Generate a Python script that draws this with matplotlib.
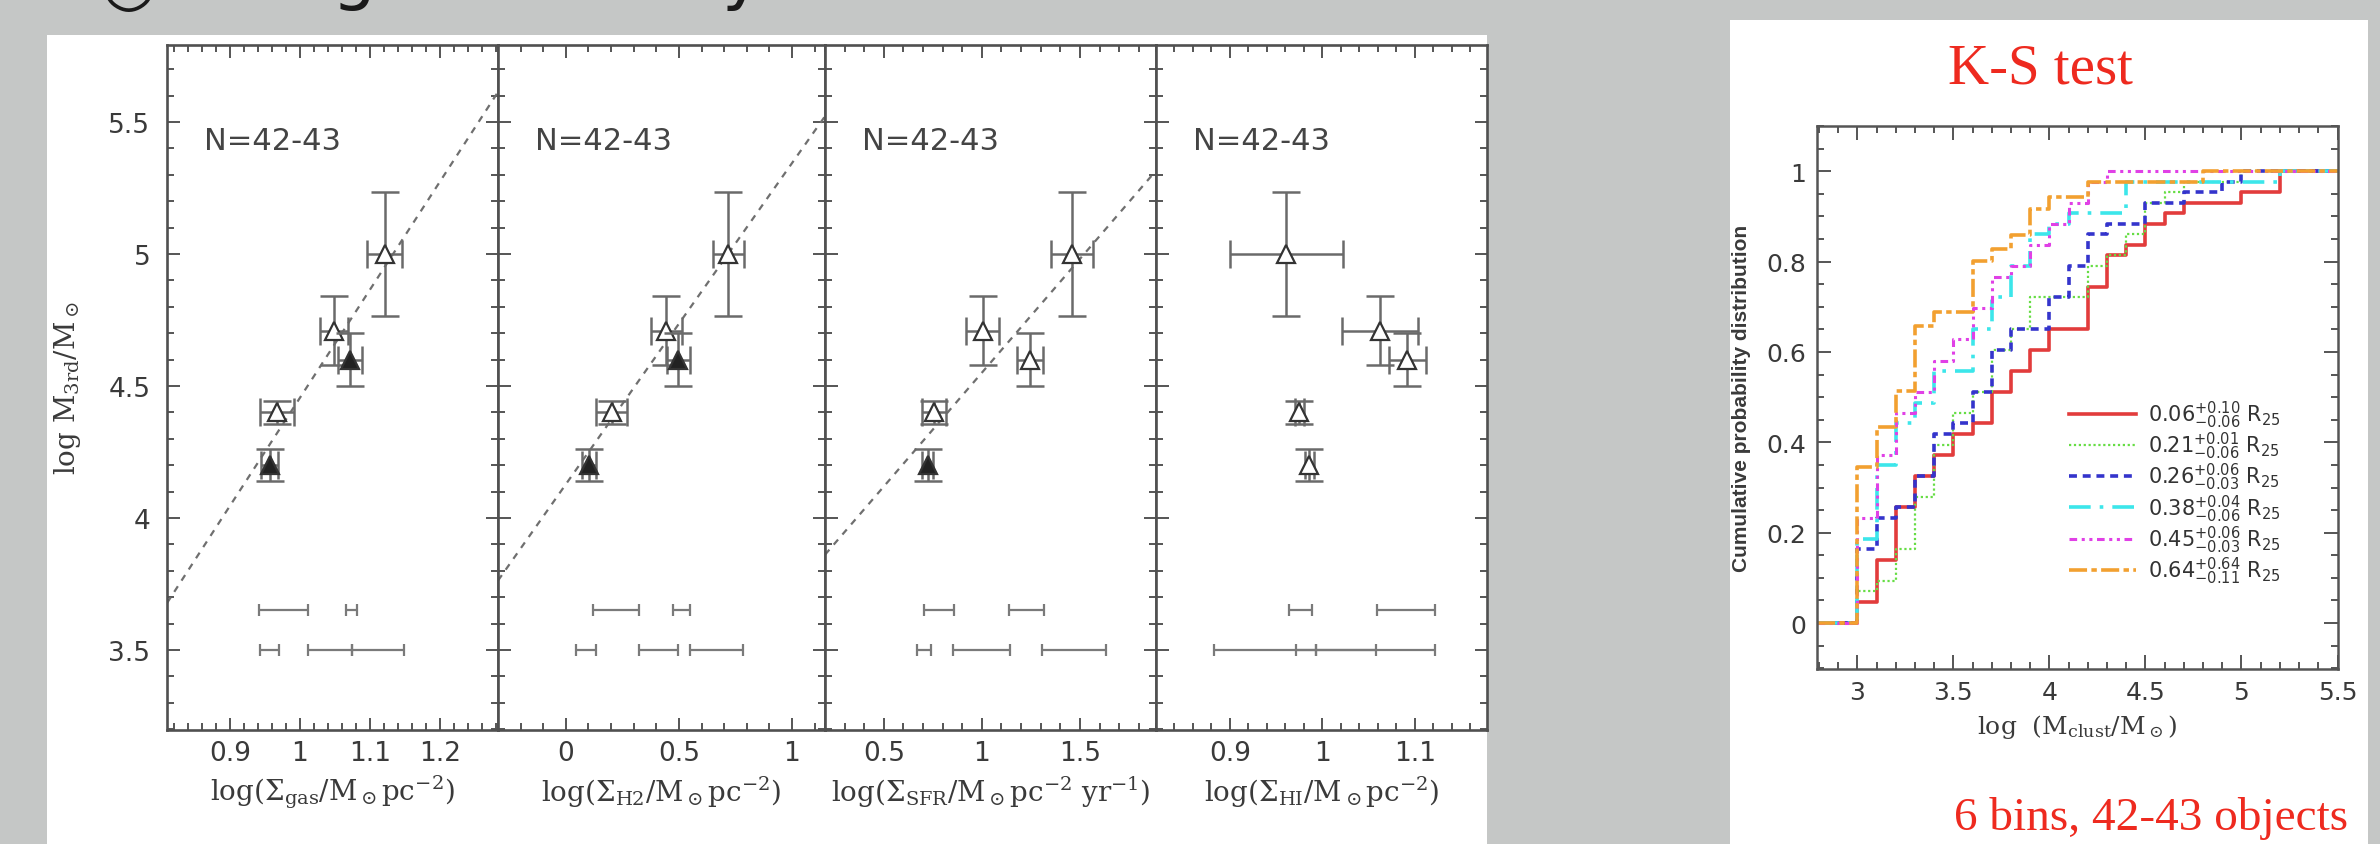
import numpy as np
import matplotlib.pyplot as plt
from matplotlib.patches import Rectangle
from matplotlib.ticker import MultipleLocator, FixedLocator, FuncFormatter

# ---- left figure: log M_3rd vs. surface densities (same y for every panel) ----
mass_3rd = [4.20, 4.40, 4.71, 4.60, 5.00]
mass_err = [0.06, 0.045, 0.13, 0.10, 0.235]

x_gas = [0.957, 0.967, 1.048, 1.071, 1.121]
xerr_gas = [0.012, 0.024, 0.020, 0.017, 0.025]
x_h2 = [0.103, 0.202, 0.445, 0.497, 0.718]
xerr_h2 = [0.030, 0.070, 0.068, 0.050, 0.068]
x_sfr = [0.723, 0.755, 1.004, 1.245, 1.458]
xerr_sfr = [0.030, 0.062, 0.083, 0.066, 0.108]
x_hi = [0.986, 0.975, 1.062, 1.092, 0.961]
xerr_hi = [0.005, 0.005, 0.041, 0.020, 0.061]

filled_gas = [1, 0, 0, 1, 0]
filled_h2 = [1, 0, 0, 1, 0]
filled_sfr = [1, 0, 0, 0, 0]
filled_hi = [0, 0, 0, 0, 0]

# bin ranges drawn at the bottom of each panel (two rows)
bin_rows = [3.65, 3.5]
bins_gas = [[(0.941, 1.011), (1.066, 1.081)],
            [(0.943, 0.970), (1.011, 1.075), (1.075, 1.149)]]
bins_h2 = [[(0.119, 0.324), (0.474, 0.547)],
           [(0.044, 0.133), (0.324, 0.498), (0.547, 0.785)]]
bins_sfr = [[(0.705, 0.860), (1.137, 1.315)],
            [(0.671, 0.739), (0.853, 1.145), (1.309, 1.632)]]
bins_hi = [[(0.964, 0.989), (1.059, 1.122)],
           [(0.883, 0.993), (0.971, 1.058), (0.993, 1.122)]]

# dashed fits (end points), none in the HI panel
fit_gas = ([0.81, 1.283], [3.678, 5.614])
fit_h2 = ([-0.30, 1.146], [3.763, 5.522])
fit_sfr = ([0.20, 1.888], [3.861, 5.316])

xlims = [(0.81, 1.283), (-0.30, 1.146), (0.20, 1.888), (0.82, 1.178)]
xticks = [[0.9, 1.0, 1.1, 1.2], [0, 0.5, 1.0], [0.5, 1.0, 1.5], [0.9, 1.0, 1.1]]
xminor = [0.02, 0.1, 0.1, 0.02]
ylim = (3.197, 5.792)
yticks = [3.5, 4, 4.5, 5, 5.5]

xlabels = [r'log($\Sigma_{\rm gas}$/M$_\odot$pc$^{-2}$)',
           r'log($\Sigma_{\rm H2}$/M$_\odot$pc$^{-2}$)',
           r'log($\Sigma_{\rm SFR}$/M$_\odot$pc$^{-2}$ yr$^{-1}$)',
           r'log($\Sigma_{\rm HI}$/M$_\odot$pc$^{-2}$)']

# ---- right figure: K-S test cumulative distributions ----
ks_labels = [r'$0.06^{+0.10}_{-0.06}$ R$_{25}$',
             r'$0.21^{+0.01}_{-0.06}$ R$_{25}$',
             r'$0.26^{+0.06}_{-0.03}$ R$_{25}$',
             r'$0.38^{+0.04}_{-0.06}$ R$_{25}$',
             r'$0.45^{+0.06}_{-0.03}$ R$_{25}$',
             r'$0.64^{+0.64}_{-0.11}$ R$_{25}$']
red_m = [3.0, 3.1, 3.2, 3.3, 3.4, 3.5, 3.6, 3.7, 3.8, 3.9, 4.0, 4.2, 4.3, 4.4, 4.5, 4.6, 4.7, 5.0, 5.2]
red_c = [0.047, 0.140, 0.256, 0.326, 0.372, 0.419, 0.442, 0.512, 0.558, 0.605, 0.651, 0.744,
         0.814, 0.837, 0.884, 0.907, 0.930, 0.953, 1.0]
green_m = [3.0, 3.1, 3.2, 3.3, 3.4, 3.5, 3.6, 3.7, 3.8, 3.9, 4.2, 4.3, 4.4, 4.5, 4.6, 4.7, 5.0]
green_c = [0.070, 0.093, 0.163, 0.279, 0.395, 0.465, 0.512, 0.605, 0.651, 0.721, 0.791, 0.814,
           0.860, 0.930, 0.953, 0.977, 1.0]
blue_m = [3.0, 3.1, 3.2, 3.3, 3.4, 3.5, 3.6, 3.7, 3.8, 4.0, 4.1, 4.2, 4.3, 4.5, 4.7, 4.9, 5.0]
blue_c = [0.163, 0.233, 0.256, 0.326, 0.419, 0.442, 0.512, 0.605, 0.651, 0.721, 0.791, 0.860,
          0.884, 0.930, 0.953, 0.977, 1.0]
cyan_m = [3.0, 3.1, 3.2, 3.3, 3.4, 3.6, 3.7, 3.8, 3.9, 4.0, 4.1, 4.4, 5.2]
cyan_c = [0.186, 0.349, 0.442, 0.488, 0.558, 0.651, 0.721, 0.791, 0.860, 0.884, 0.907, 0.977, 1.0]
mag_m = [3.0, 3.1, 3.2, 3.3, 3.4, 3.5, 3.6, 3.7, 3.8, 3.9, 4.0, 4.1, 4.2, 4.3]
mag_c = [0.233, 0.372, 0.465, 0.512, 0.581, 0.628, 0.698, 0.767, 0.791, 0.837, 0.884, 0.930, 0.977, 1.0]
orange_m = [3.0, 3.1, 3.2, 3.3, 3.4, 3.6, 3.7, 3.8, 3.9, 4.0, 4.2, 4.8]
orange_c = [0.345, 0.433, 0.514, 0.658, 0.688, 0.802, 0.828, 0.859, 0.917, 0.943, 0.976, 1.0]
ks_xlim = (2.79, 5.5)
ks_ylim = (-0.101, 1.101)

W, H = 2380, 845
grey_txt = '#3a3a3a'
red_txt = '#ee2a1f'


def fig_rect(x0, y0, x1, y1):
    # pixel box, origin top-left -> figure fraction
    return [x0 / W, 1 - y1 / H, (x1 - x0) / W, (y1 - y0) / H]


fig = plt.figure(figsize=(W / 100, H / 100), dpi=100, facecolor='#c5c7c6')

# white picture areas on the slide
for x0, y0, x1, y1 in [(47, 36, 1487, 845), (1730, 21, 2368, 845)]:
    r = fig_rect(x0, y0, x1, y1)
    fig.add_artist(Rectangle((r[0], r[1]), r[2], r[3], transform=fig.transFigure,
                             facecolor='white', edgecolor='none', zorder=-5))

# slide title, only its lowest part is inside the picture
fig.text(100 / W, 1 - 4 / H, '○', fontsize=46, color='#1a1a1a', va='baseline', ha='left')
fig.text(331 / W, 1 + 3 / H, 'g', fontsize=50, color='#1a1a1a', va='baseline', ha='left')
fig.text(722 / W, 1 + 3 / H, 'y', fontsize=50, color='#1a1a1a', va='baseline', ha='left')

xs = [x_gas, x_h2, x_sfr, x_hi]
xerrs = [xerr_gas, xerr_h2, xerr_sfr, xerr_hi]
filled = [filled_gas, filled_h2, filled_sfr, filled_hi]
bins = [bins_gas, bins_h2, bins_sfr, bins_hi]
fits = [fit_gas, fit_h2, fit_sfr, None]
edges = [167, 498, 825, 1156, 1487]
fmt = FuncFormatter(lambda v, p: f'{v:g}')

for i in range(4):
    ax = fig.add_axes(fig_rect(edges[i], 46, edges[i + 1], 731))
    ax.set_xlim(*xlims[i])
    ax.set_ylim(*ylim)

    if fits[i] is not None:
        ax.plot(fits[i][0], fits[i][1], ls=(0, (3, 3)), color='#6f6f6f', lw=1.6)

    for row_y, row in zip(bin_rows, bins[i]):
        for lo, hi in row:
            ax.errorbar((lo + hi) / 2, row_y, xerr=(hi - lo) / 2, fmt='none',
                        ecolor='#7a7a7a', elinewidth=1.6, capsize=4, capthick=1.6)

    for x, xe, y, ye, f in zip(xs[i], xerrs[i], mass_3rd, mass_err, filled[i]):
        ax.errorbar(x, y, xerr=xe, yerr=ye, fmt='none', ecolor='#6a6a6a',
                    elinewidth=1.8, capsize=10, capthick=1.8)
        ax.plot(x, y, marker='^', ms=13, mec='#333333', mew=1.6,
                mfc='#222222' if f else 'white')

    ax.text(0.112, 0.861, 'N=42-43', transform=ax.transAxes, ha='left', va='center',
            fontsize=22, color='#444444')

    ax.xaxis.set_major_locator(FixedLocator(xticks[i]))
    ax.xaxis.set_major_formatter(fmt)
    ax.xaxis.set_minor_locator(MultipleLocator(xminor[i]))
    ax.yaxis.set_major_locator(FixedLocator(yticks))
    ax.yaxis.set_minor_locator(MultipleLocator(0.1))
    ax.yaxis.set_major_formatter(fmt)
    ax.tick_params(which='both', direction='in', top=True, right=True,
                   colors='#555555', labelcolor=grey_txt, labelsize=19, width=1.4)
    ax.tick_params(which='major', length=9)
    ax.tick_params(which='minor', length=5)
    ax.tick_params(axis='x', pad=7)
    ax.tick_params(axis='y', pad=12)
    if i > 0:
        ax.tick_params(axis='y', labelleft=False)
    for s in ax.spines.values():
        s.set_linewidth(1.9)
        s.set_color('#505050')

    ax.set_xlabel(xlabels[i], fontsize=20, color=grey_txt, family='DejaVu Serif',
                  math_fontfamily='dejavuserif')
    ax.xaxis.set_label_coords(0.5, -0.089)
    ax.xaxis.label.set_va('center')
    if i == 0:
        ax.set_ylabel(r'log M$_{\rm 3rd}$/M$_\odot$', fontsize=20, color=grey_txt,
                      family='DejaVu Serif', math_fontfamily='dejavuserif')
        ax.yaxis.set_label_coords(-0.302, 0.5)
        ax.yaxis.label.set_va('center')

# ---- K-S panel ----
ax = fig.add_axes(fig_rect(1817, 126.6, 2337.5, 669.7))
ax.set_xlim(*ks_xlim)
ax.set_ylim(*ks_ylim)
curves = [(red_m, red_c, '#e23c3c', '-', 2.6),
          (green_m, green_c, '#66dd44', (0, (1, 1.2)), 1.6),
          (blue_m, blue_c, '#3434cc', (0, (2.2, 1.6)), 2.6),
          (cyan_m, cyan_c, '#3ce6ea', (0, (6, 2.5, 1, 2.5)), 2.6),
          (mag_m, mag_c, '#e040e6', (0, (2.5, 1.5, 1, 1.5, 1, 1.5)), 2.2),
          (orange_m, orange_c, '#f2a030', (0, (5, 1.2, 1.5, 1.2)), 2.6)]
for (m, c, col, ls, lw), lab in zip(curves, ks_labels):
    ax.step([ks_xlim[0]] + m + [ks_xlim[1]], [0] + c + [1.0], where='post',
            color=col, ls=ls, lw=lw, label=lab)

ax.xaxis.set_major_locator(FixedLocator([3, 3.5, 4, 4.5, 5, 5.5]))
ax.xaxis.set_minor_locator(MultipleLocator(0.1))
ax.yaxis.set_major_locator(FixedLocator([0, 0.2, 0.4, 0.6, 0.8, 1.0]))
ax.yaxis.set_minor_locator(MultipleLocator(0.05))
ax.xaxis.set_major_formatter(fmt)
ax.yaxis.set_major_formatter(fmt)
ax.tick_params(which='both', direction='in', top=True, right=True,
               colors='#555555', labelcolor=grey_txt, labelsize=18, width=1.4, pad=8)
ax.tick_params(which='major', length=10)
ax.tick_params(which='minor', length=5)
for s in ax.spines.values():
    s.set_linewidth(1.8)
    s.set_color('#555555')
ax.set_xlabel(r'log  (M$_{\rm clust}$/M$_\odot$)', fontsize=18, color=grey_txt,
              family='DejaVu Serif', math_fontfamily='dejavuserif')
ax.xaxis.set_label_coords(0.5, -0.1055)
ax.xaxis.label.set_va('center')
ax.set_ylabel('Cumulative probability distribution', fontsize=15, color=grey_txt,
              family='Liberation Sans', weight='bold')
ax.yaxis.set_label_coords(-0.146, 0.5)
ax.yaxis.label.set_va('center')

leg = ax.legend(loc='upper left', bbox_to_anchor=(0.484, 0.497), frameon=False,
                fontsize=15, handlelength=3.2, handletextpad=0.6, labelspacing=0.0,
                borderpad=0, borderaxespad=0)
for t in leg.get_texts():
    t.set_color('#333333')

fig.text(2040 / W, 1 - 69 / H, 'K-S test', fontsize=41, color=red_txt,
         family='Liberation Serif', ha='center', va='center')
fig.text(2348 / W, 1 - 830 / H, '6 bins, 42-43 objects', fontsize=34, color=red_txt,
         family='Liberation Serif', ha='right', va='baseline')

fig.savefig('out.png', dpi=100, facecolor=fig.get_facecolor())
